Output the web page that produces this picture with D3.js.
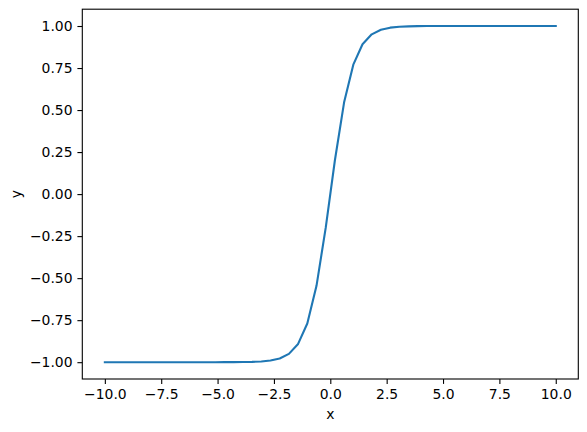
<!DOCTYPE html>
<html lang="en">
<head>
  <meta charset="UTF-8">
  <title>tanh</title>
  <script src="https://d3js.org/d3.v7.min.js"></script>
  <style>
    body { margin: 0; background: #fff; }
    svg text { font-family: "DejaVu Sans", sans-serif; }
  </style>
</head>
<body>
<div id="chart"></div>
<script>
  // sample points along the curve
  var xValues = [-10, -9.5918, -9.1837, -8.7755, -8.3673, -7.9592, -7.5510, -7.1429, -6.7347, -6.3265,
    -5.9184, -5.5102, -5.1020, -4.6939, -4.2857, -3.8776, -3.4694, -3.0612, -2.6531, -2.2449,
    -1.8367, -1.4286, -1.0204, -0.6122, -0.2041, 0.2041, 0.6122, 1.0204, 1.4286, 1.8367,
    2.2449, 2.6531, 3.0612, 3.4694, 3.8776, 4.2857, 4.6939, 5.1020, 5.5102, 5.9184,
    6.3265, 6.7347, 7.1429, 7.5510, 7.9592, 8.3673, 8.7755, 9.1837, 9.5918, 10];
  var yValues = [-1, -1, -1, -1, -1, -1, -1, -1, -1, -0.99999,
    -0.99999, -0.99997, -0.99993, -0.99983, -0.99962, -0.99914, -0.99806, -0.99562, -0.99013, -0.97780,
    -0.95050, -0.89140, -0.77000, -0.54570, -0.20131, 0.20131, 0.54570, 0.77000, 0.89140, 0.95050,
    0.97780, 0.99013, 0.99562, 0.99806, 0.99914, 0.99962, 0.99983, 0.99993, 0.99997, 0.99999,
    0.99999, 1, 1, 1, 1, 1, 1, 1, 1, 1];
  var xTicks = [-10, -7.5, -5, -2.5, 0, 2.5, 5, 7.5, 10];
  var yTicks = [-1, -0.75, -0.5, -0.25, 0, 0.25, 0.5, 0.75, 1];

  var W = 587, H = 432;
  var margin = { top: 9.2, right: 8.7, bottom: 53, left: 82.3 },
    width = W - margin.left - margin.right,
    height = H - margin.top - margin.bottom;

  var svg = d3.select("#chart")
    .append("svg")
    .attr("width", W)
    .attr("height", H)
    .append("g")
    .attr("transform", "translate(" + margin.left + "," + margin.top + ")");

  var x = d3.scaleLinear().domain([-11, 11]).range([0, width]);
  var y = d3.scaleLinear().domain([-1.1, 1.1]).range([height, 0]);

  // axes
  var xAxis = svg.append("g")
    .attr("transform", "translate(0," + height + ")")
    .call(d3.axisBottom(x).tickValues(xTicks).tickFormat(d3.format(".1f"))
      .tickSizeInner(4.9).tickSizeOuter(0).tickPadding(4.9));
  var yAxis = svg.append("g")
    .call(d3.axisLeft(y).tickValues(yTicks).tickFormat(d3.format(".2f"))
      .tickSizeInner(4.9).tickSizeOuter(0).tickPadding(4.9));

  [xAxis, yAxis].forEach(function(a) {
    a.select(".domain").remove();
    a.selectAll(".tick line").attr("stroke", "#000").attr("stroke-width", 1.1);
    a.selectAll(".tick text").attr("fill", "#000").style("font-size", "13.9px");
  });

  // frame
  svg.append("rect")
    .attr("width", width)
    .attr("height", height)
    .attr("fill", "none")
    .attr("stroke", "#000")
    .attr("stroke-width", 1.1);

  // line
  var pts = xValues.map(function(d, i) { return [d, yValues[i]]; });
  svg.append("path")
    .datum(pts)
    .attr("fill", "none")
    .attr("stroke", "#1f77b4")
    .attr("stroke-width", 2.1)
    .attr("stroke-linejoin", "round")
    .attr("stroke-linecap", "square")
    .attr("d", d3.line().x(function(d) { return x(d[0]); }).y(function(d) { return y(d[1]); }));

  // axis labels
  svg.append("text")
    .attr("x", width / 2)
    .attr("y", height + 40.5)
    .attr("text-anchor", "middle")
    .style("font-size", "13.9px")
    .text("x");
  svg.append("text")
    .attr("transform", "translate(" + (-61) + "," + (height / 2) + ") rotate(-90)")
    .attr("text-anchor", "middle")
    .style("font-size", "13.9px")
    .text("y");
</script>
</body>
</html>
